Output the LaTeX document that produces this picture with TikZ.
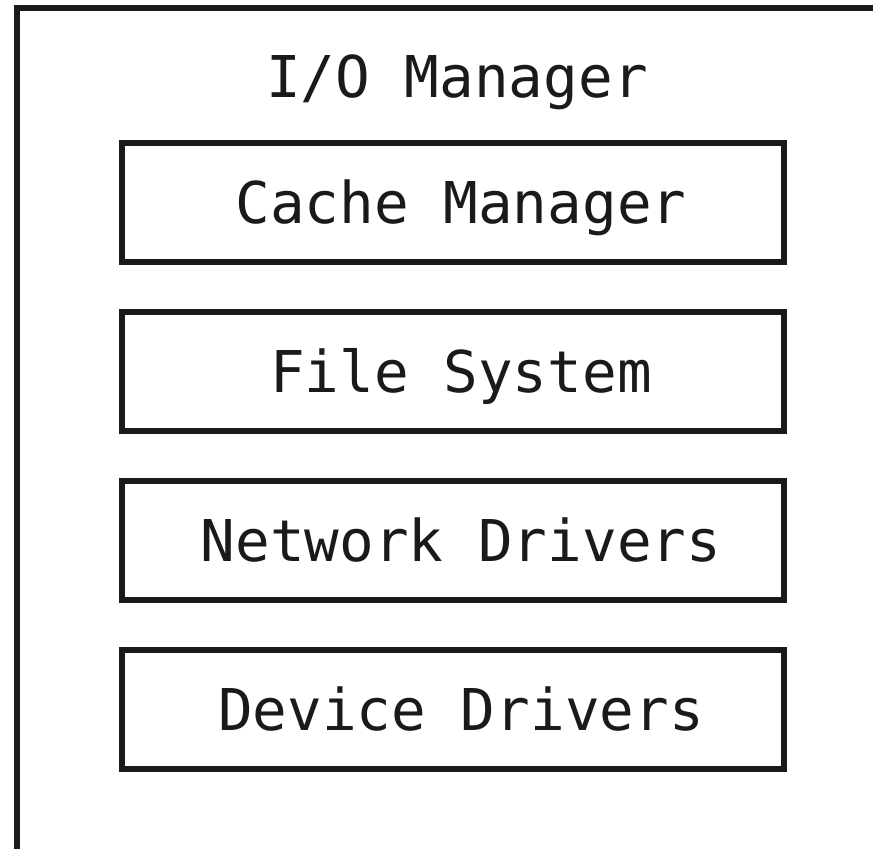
\documentclass[tikz,border=0pt]{standalone}
\usepackage{fontspec}
\setmonofont{DejaVu Sans Mono}
\usetikzlibrary{positioning}
\definecolor{IoInk}{HTML}{1A1A1A}
\definecolor{IoPaper}{HTML}{FFFFFF}
\tikzset{
  io layer/.style={
    draw=IoInk,
    fill=IoPaper,
    text=IoInk,
    line width=3pt,
    minimum width=331pt,
    minimum height=59.5pt,
    inner sep=0pt,
    text height=21pt,
    text depth=0pt,
    execute at begin node=\hspace*{8pt},
    font=\ttfamily\fontsize{28.8}{30}\selectfont
  },
  io title/.style={
    text=IoInk,
    inner sep=0pt,
    font=\ttfamily\fontsize{28.8}{30}\selectfont
  },
  io frame/.style={draw=IoInk,line width=3pt}
}

\begin{document}
\begin{tikzpicture}[x=0.5pt,y=-0.5pt,node distance=22pt]
  \useasboundingbox[fill=IoPaper] (0,0) rectangle (873,849);
  \coordinate (frame east) at (873,8.5);
  \coordinate (frame corner) at (17,8.5);
  \coordinate (frame south) at (17,849);
  \draw[io frame] (frame east) -- (frame corner) -- (frame south);

  \node[io layer] (cache) at (453,202.5) {Cache Manager};
  \node[io layer,below=of cache] (fs) {File System};
  \node[io layer,below=of fs] (net) {Network Drivers};
  \node[io layer,below=of net] (dev) {Device Drivers};
  \node[io title,above=21pt of cache,anchor=base,xshift=2pt] (iomgr) {I/O Manager};
\end{tikzpicture}
\end{document}
